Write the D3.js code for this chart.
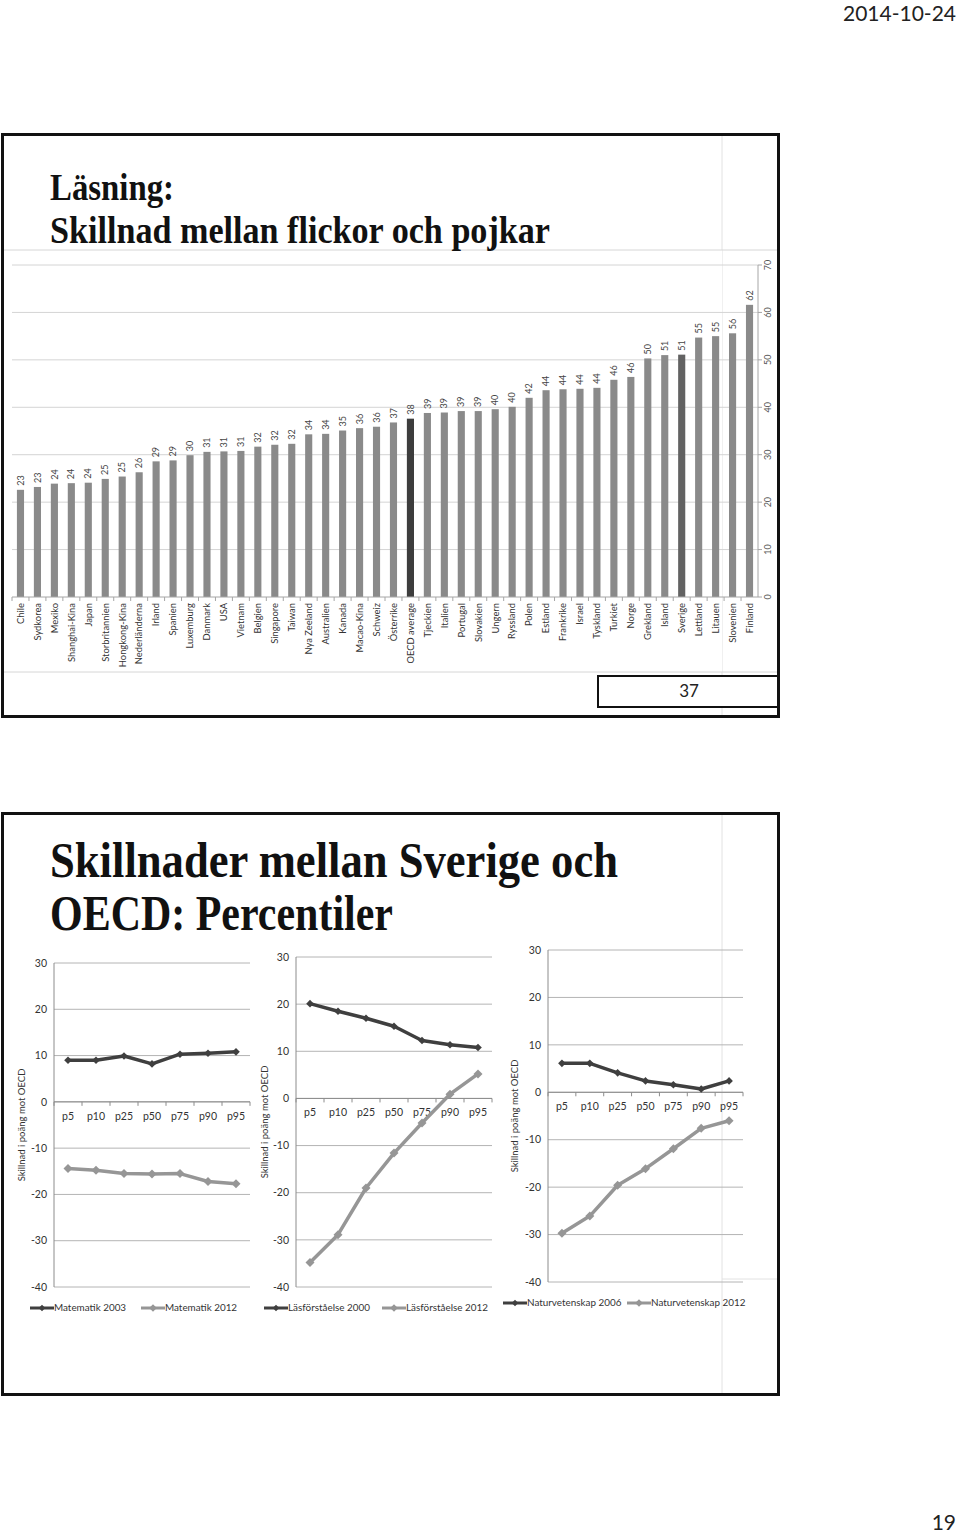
<!DOCTYPE html>
<html>
<head>
<meta charset="utf-8">
<script src="https://cdn.jsdelivr.net/npm/d3@7"></script>
<style>
  body { margin: 0; background: #fff; }
  text { font-family: Lato, "Open Sans", sans-serif; }
  .title { font-family: "Liberation Serif", serif; font-weight: bold; fill: #111; }
</style>
</head>
<body>
<svg id="page" width="960" height="1534"></svg>
<script>
// ---- data: slide 37, reading gap girls vs boys
var countries = ["Chile", "Sydkorea", "Mexiko", "Shanghai-Kina", "Japan", "Storbritannien",
  "Hongkong-Kina", "Nederländerna", "Irland", "Spanien", "Luxemburg", "Danmark", "USA",
  "Vietnam", "Belgien", "Singapore", "Taiwan", "Nya Zeeland", "Australien", "Kanada",
  "Macao-Kina", "Schweiz", "Österrike", "OECD average", "Tjeckien", "Italien", "Portugal",
  "Slovakien", "Ungern", "Ryssland", "Polen", "Estland", "Frankrike", "Israel", "Tyskland",
  "Turkiet", "Norge", "Grekland", "Island", "Sverige", "Lettland", "Litauen", "Slovenien",
  "Finland"];
var gapValues = [22.6, 23.2, 23.9, 24.0, 24.1, 24.9, 25.4, 26.3, 28.6, 28.8, 29.9, 30.6, 30.7,
  30.8, 31.7, 32.1, 32.3, 34.3, 34.4, 35.1, 35.6, 35.9, 36.8, 37.6, 38.8, 38.9, 39.2,
  39.2, 39.6, 40.1, 42.0, 43.6, 43.8, 43.9, 44.1, 45.8, 46.4, 50.3, 51.0, 51.1, 54.7, 55.0,
  55.6, 61.6];
var gapTicks = [0, 10, 20, 30, 40, 50, 60, 70];

// ---- data: slide 38, Sweden vs OECD by percentile
var percentiles = ["p5", "p10", "p25", "p50", "p75", "p90", "p95"];
var diffTicks = [-40, -30, -20, -10, 0, 10, 20, 30];
var mat2003 = [9.0, 9.0, 9.9, 8.2, 10.3, 10.5, 10.8];
var mat2012 = [-14.4, -14.8, -15.5, -15.6, -15.5, -17.2, -17.7];
var las2000 = [20.1, 18.5, 17.0, 15.3, 12.3, 11.4, 10.8];
var las2012 = [-34.8, -28.9, -19.0, -11.6, -5.2, 0.9, 5.2];
var nat2006 = [6.1, 6.1, 4.1, 2.4, 1.6, 0.7, 2.4];
var nat2012 = [-29.7, -26.1, -19.6, -16.1, -11.9, -7.6, -6.0];

var svg = d3.select("#page");

// page header / footer
svg.append("text").attr("x", 956).attr("y", 21).attr("text-anchor", "end")
   .style("font-size", "21px").attr("fill", "#222").text("2014-10-24");
svg.append("text").attr("x", 956).attr("y", 1530).attr("text-anchor", "end")
   .style("font-size", "21px").attr("fill", "#222").text("19");

// ---------------- slide 1 ----------------
var s1 = svg.append("g");
s1.append("line").attr("x1", 722).attr("x2", 722).attr("y1", 135).attr("y2", 716)
  .attr("stroke", "#e2e2e2");
s1.append("rect").attr("x", 2).attr("y", 250).attr("width", 720).attr("height", 422)
  .attr("fill", "#fff");
s1.append("line").attr("x1", 3).attr("x2", 778).attr("y1", 250).attr("y2", 250)
  .attr("stroke", "#d6d6d6");
s1.append("line").attr("x1", 3).attr("x2", 778).attr("y1", 672).attr("y2", 672)
  .attr("stroke", "#d6d6d6");

s1.append("text").attr("class", "title").attr("x", 50).attr("y", 200)
  .style("font-size", "37px").attr("textLength", 124).attr("lengthAdjust", "spacingAndGlyphs")
  .text("Läsning:");
s1.append("text").attr("class", "title").attr("x", 50).attr("y", 243)
  .style("font-size", "37px").attr("textLength", 500).attr("lengthAdjust", "spacingAndGlyphs")
  .text("Skillnad mellan flickor och pojkar");

var xBar = d3.scaleBand().domain(countries).range([12, 758])
             .paddingInner(0.58).paddingOuter(0.29);
var yBar = d3.scaleLinear().domain([0, 70]).range([597, 265]);

// gridlines
s1.selectAll(".grid").data(gapTicks.slice(1)).enter().append("line")
  .attr("x1", 12).attr("x2", 758)
  .attr("y1", function(d) { return yBar(d); }).attr("y2", function(d) { return yBar(d); })
  .attr("stroke", "#d4d4d4");

// bars
s1.selectAll(".bar").data(gapValues).enter().append("rect")
  .attr("x", function(d, i) { return xBar(countries[i]); })
  .attr("width", xBar.bandwidth())
  .attr("y", function(d) { return yBar(d); })
  .attr("height", function(d) { return yBar(0) - yBar(d); })
  .attr("fill", function(d, i) {
    if (countries[i] == "OECD average") return "#3d3d3d";
    if (countries[i] == "Sverige") return "#626262";
    return "#8a8a8a";
  });

// value labels
s1.selectAll(".val").data(gapValues).enter().append("text")
  .attr("transform", function(d, i) {
    return "translate(" + (xBar(countries[i]) + xBar.bandwidth() / 2) + "," + (yBar(d) - 4) + ") rotate(-90)";
  })
  .attr("dy", "0.35em").style("font-size", "9px").attr("fill", "#444")
  .text(function(d) { return Math.round(d); });

// category axis (bottom)
s1.append("line").attr("x1", 12).attr("x2", 758).attr("y1", yBar(0)).attr("y2", yBar(0))
  .attr("stroke", "#a6a6a6");
s1.selectAll(".ctick").data(countries).enter().append("line")
  .attr("x1", function(d) { return xBar(d) - xBar.step() * xBar.paddingInner() / 2; })
  .attr("x2", function(d) { return xBar(d) - xBar.step() * xBar.paddingInner() / 2; })
  .attr("y1", yBar(0)).attr("y2", yBar(0) + 4).attr("stroke", "#a6a6a6");
s1.selectAll(".cat").data(countries).enter().append("text")
  .attr("transform", function(d) {
    return "translate(" + (xBar(d) + xBar.bandwidth() / 2) + "," + (yBar(0) + 6) + ") rotate(-90)";
  })
  .attr("dy", "0.35em").attr("text-anchor", "end").style("font-size", "9.4px").attr("fill", "#333")
  .text(function(d) { return d; });

// value axis (right)
s1.append("line").attr("x1", 758).attr("x2", 758).attr("y1", yBar(70)).attr("y2", yBar(0))
  .attr("stroke", "#a6a6a6");
s1.selectAll(".vtick").data(gapTicks).enter().append("line")
  .attr("x1", 758).attr("x2", 762)
  .attr("y1", function(d) { return yBar(d); }).attr("y2", function(d) { return yBar(d); })
  .attr("stroke", "#a6a6a6");
s1.selectAll(".vlab").data(gapTicks).enter().append("text")
  .attr("transform", function(d) { return "translate(768," + yBar(d) + ") rotate(-90)"; })
  .attr("dy", "0.35em").attr("text-anchor", "middle").style("font-size", "9px").attr("fill", "#555")
  .text(function(d) { return d; });

// slide number box + frame
s1.append("rect").attr("x", 598).attr("y", 676).attr("width", 181).attr("height", 31)
  .attr("fill", "#fff").attr("stroke", "#111").attr("stroke-width", 2);
s1.append("text").attr("x", 689).attr("y", 697).attr("text-anchor", "middle")
  .style("font-size", "17px").attr("fill", "#222").text("37");
s1.append("rect").attr("x", 2.5).attr("y", 134.5).attr("width", 776).attr("height", 582)
  .attr("fill", "none").attr("stroke", "#111").attr("stroke-width", 3);

// ---------------- slide 2 ----------------
var s2 = svg.append("g");
s2.append("line").attr("x1", 722).attr("x2", 722).attr("y1", 814).attr("y2", 1394)
  .attr("stroke", "#e2e2e2");
s2.append("line").attr("x1", 722).attr("x2", 778).attr("y1", 1279).attr("y2", 1279)
  .attr("stroke", "#e2e2e2");

s2.append("text").attr("class", "title").attr("x", 50).attr("y", 877)
  .style("font-size", "50px").attr("textLength", 568).attr("lengthAdjust", "spacingAndGlyphs")
  .text("Skillnader mellan Sverige och");
s2.append("text").attr("class", "title").attr("x", 50).attr("y", 930)
  .style("font-size", "50px").attr("textLength", 343).attr("lengthAdjust", "spacingAndGlyphs")
  .text("OECD: Percentiler");

var panels = [
  { dark: mat2003, light: mat2012, names: ["Matematik 2003", "Matematik 2012"],
    left: 54, right: 250, top: 963, bottom: 1287, titleX: 22, legX: [30, 141] },
  { dark: las2000, light: las2012, names: ["Läsförståelse 2000", "Läsförståelse 2012"],
    left: 296, right: 492, top: 957, bottom: 1287, titleX: 265, legX: [264, 382] },
  { dark: nat2006, light: nat2012, names: ["Naturvetenskap 2006", "Naturvetenskap 2012"],
    left: 548, right: 743, top: 950, bottom: 1282, titleX: 515, legX: [503, 627] }
];
var darkColor = "#3f3f3f", lightColor = "#969696";

function diamond(r) {
  return "M0," + (-r) + "L" + r + ",0L0," + r + "L" + (-r) + ",0Z";
}

panels.forEach(function(p) {
  var g = s2.append("g");
  var x = d3.scalePoint().domain(percentiles).range([p.left, p.right]).padding(0.5);
  var y = d3.scaleLinear().domain([-40, 30]).range([p.bottom, p.top]);
  var step = x.step();

  g.selectAll(".grid").data(diffTicks).enter().append("line")
   .attr("x1", p.left).attr("x2", p.right)
   .attr("y1", function(d) { return y(d); }).attr("y2", function(d) { return y(d); })
   .attr("stroke", "#b4b4b4");
  g.append("line").attr("x1", p.left).attr("x2", p.left).attr("y1", p.top).attr("y2", p.bottom)
   .attr("stroke", "#8c8c8c");
  g.selectAll(".ylab").data(diffTicks).enter().append("text")
   .attr("x", p.left - 7).attr("y", function(d) { return y(d); }).attr("dy", "0.35em")
   .attr("text-anchor", "end").style("font-size", "10.5px").attr("fill", "#333")
   .text(function(d) { return d; });

  // category axis at zero
  g.append("line").attr("x1", p.left).attr("x2", p.right).attr("y1", y(0)).attr("y2", y(0))
   .attr("stroke", "#8c8c8c");
  g.selectAll(".xt").data(d3.range(percentiles.length + 1)).enter().append("line")
   .attr("x1", function(i) { return p.left + i * step; }).attr("x2", function(i) { return p.left + i * step; })
   .attr("y1", y(0)).attr("y2", y(0) + 4).attr("stroke", "#8c8c8c");
  g.selectAll(".xlab").data(percentiles).enter().append("text")
   .attr("x", function(d) { return x(d); }).attr("y", y(0) + 18)
   .attr("text-anchor", "middle").style("font-size", "10.5px").attr("fill", "#333")
   .text(function(d) { return d; });

  g.append("text")
   .attr("transform", "translate(" + p.titleX + "," + ((p.top + p.bottom) / 2) + ") rotate(-90)")
   .attr("dy", "0.35em").attr("text-anchor", "middle").style("font-size", "9.5px").attr("fill", "#333")
   .text("Skillnad i poäng mot OECD");

  var line = d3.line()
               .x(function(d, i) { return x(percentiles[i]); })
               .y(function(d) { return y(d); });

  [[p.dark, darkColor, 3.8], [p.light, lightColor, 4.5]].forEach(function(s) {
    g.append("path").attr("d", line(s[0])).attr("fill", "none")
     .attr("stroke", s[1]).attr("stroke-width", 3.5).attr("stroke-linejoin", "round");
    g.selectAll(null).data(s[0]).enter().append("path")
     .attr("transform", function(d, i) { return "translate(" + x(percentiles[i]) + "," + y(d) + ")"; })
     .attr("d", diamond(s[2])).attr("fill", s[1]);
  });

  // legend
  var ly = p.bottom + 21;
  [[darkColor, 3.3], [lightColor, 3.8]].forEach(function(c, k) {
    var lx = p.legX[k];
    g.append("line").attr("x1", lx).attr("x2", lx + 24).attr("y1", ly).attr("y2", ly)
     .attr("stroke", c[0]).attr("stroke-width", 3);
    g.append("path").attr("transform", "translate(" + (lx + 12) + "," + ly + ")")
     .attr("d", diamond(c[1])).attr("fill", c[0]);
    g.append("text").attr("x", lx + 24).attr("y", ly).attr("dy", "0.35em")
     .style("font-size", "9.9px").attr("fill", "#333").text(p.names[k]);
  });
});

s2.append("rect").attr("x", 2.5).attr("y", 813.5).attr("width", 776).attr("height", 581)
  .attr("fill", "none").attr("stroke", "#111").attr("stroke-width", 3);
</script>
</body>
</html>
